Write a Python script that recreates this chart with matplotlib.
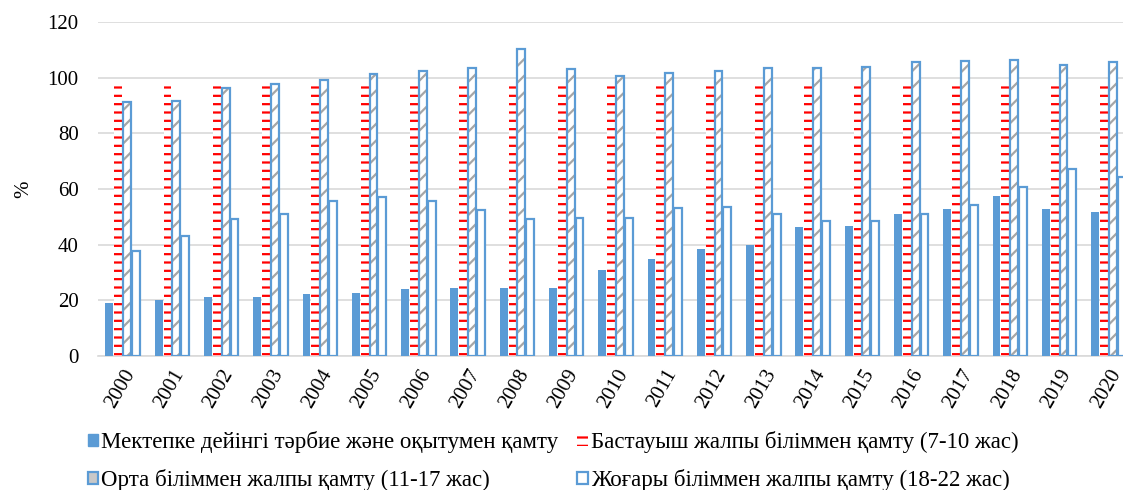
import matplotlib.pyplot as plt
import matplotlib.patches as mpatches
import numpy as np

plt.rcParams['font.family'] = ['Liberation Serif', 'DejaVu Serif']
plt.rcParams['hatch.linewidth'] = 1.6

years = [str(y) for y in range(2000, 2021)]

# Мектепке дейінгі тәрбие және оқытумен қамту
preschool = [18.9, 20.1, 21.1, 21.3, 22.3, 22.8, 24.0, 24.6, 24.6, 24.6, 30.9,
             35.0, 38.4, 40.0, 46.3, 46.6, 51.1, 52.7, 57.6, 52.8, 51.6]
# Бастауыш жалпы біліммен қамту (7-10 жас)
primary = [98.8, 98.8, 98.8, 98.8, 98.8, 98.8, 98.8, 98.7, 98.1, 98.7, 98.7,
           98.7, 98.7, 98.7, 97.8, 98.5, 98.5, 98.5, 98.5, 98.5, 98.5]
# Орта біліммен жалпы қамту (11-17 жас)
secondary = [91.2, 91.5, 96.3, 97.6, 99.0, 101.3, 102.3, 103.6, 110.3, 103.0, 100.7,
             101.8, 102.4, 103.6, 103.6, 103.8, 105.7, 106.0, 106.3, 104.7, 105.5]
# Жоғары біліммен жалпы қамту (18-22 жас)
higher = [37.7, 43.0, 49.1, 50.9, 55.6, 57.2, 55.8, 52.5, 49.2, 49.6, 49.5,
          53.2, 53.4, 51.0, 48.4, 48.4, 51.1, 54.4, 60.7, 67.1, 64.2]

labels = ['Мектепке дейінгі тәрбие және оқытумен қамту',
          'Бастауыш жалпы біліммен қамту (7-10 жас)',
          'Орта біліммен жалпы қамту (11-17 жас)',
          'Жоғары біліммен жалпы қамту (18-22 жас)']

blue = '#5b9bd5'
x = np.arange(len(years))
w = 0.16
step = 0.18

fig = plt.figure(figsize=(11.23, 4.9), dpi=100)
ax = fig.add_axes([98 / 1123, 134 / 490, 1035 / 1123, 334 / 490])

ax.bar(x - 1.5 * step, preschool, w, color=blue, zorder=3)
ax.bar(x - 0.5 * step, primary, w, facecolor='white', edgecolor='#ff0000',
       linewidth=0, hatch='--', zorder=3)
ax.bar(x + 0.5 * step, secondary, w, facecolor='white', edgecolor='#a6a6a6',
       linewidth=0, hatch='//', zorder=3)
ax.bar(x + 0.5 * step, secondary, w, facecolor='none', edgecolor=blue,
       linewidth=1.6, zorder=4)
ax.bar(x + 1.5 * step, higher, w, facecolor='white', edgecolor=blue,
       linewidth=1.6, zorder=3)

ax.set_xlim(-0.5, len(years) - 0.5)
ax.set_ylim(0, 120)
ax.set_yticks(range(0, 121, 20))
ax.set_xticks(x)
ax.set_xticklabels(years, rotation=60, ha='right', rotation_mode='anchor')
ax.tick_params(length=0, labelsize=15, pad=7)
ax.tick_params(axis='y', pad=14)
ax.grid(axis='y', color='#d9d9d9', linewidth=1.2, zorder=0)
for s in ['top', 'right', 'left']:
    ax.spines[s].set_visible(False)
ax.spines['bottom'].set_color('#d9d9d9')
ax.spines['bottom'].set_linewidth(1.2)
ax.set_ylabel('%', fontsize=15, labelpad=10)

h1 = mpatches.Patch(facecolor=blue, edgecolor=blue)
h2 = mpatches.Patch(facecolor='white', edgecolor='#ff0000', linewidth=0, hatch='--')
h3 = mpatches.Patch(facecolor='#c8c8c8', edgecolor=blue, linewidth=1.6)
h4 = mpatches.Patch(facecolor='white', edgecolor=blue, linewidth=1.6)
fig.legend([h1, h3, h2, h4], [labels[0], labels[2], labels[1], labels[3]],
           ncol=2, frameon=False, fontsize=16.5, loc='lower left',
           bbox_to_anchor=(67 / 1123, -0.045), handlelength=0.45, handleheight=0.45,
           handletextpad=0.15, columnspacing=0.82, labelspacing=0.72)

fig.savefig('out.png', dpi=100)
